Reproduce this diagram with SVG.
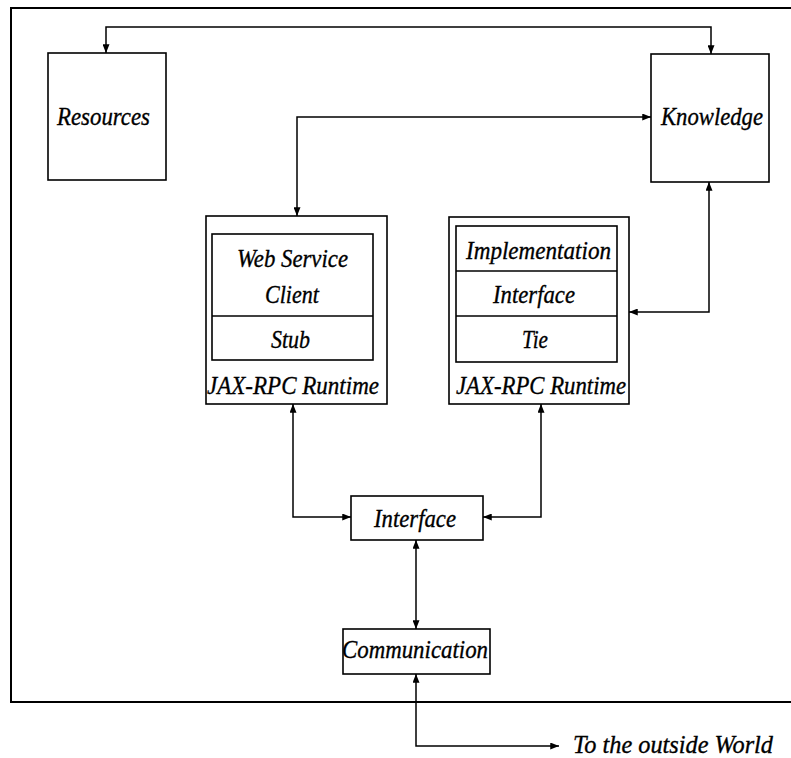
<svg xmlns="http://www.w3.org/2000/svg" width="791" height="758" viewBox="0 0 791 758">
  <style>
    .box { fill: #fff; stroke: #000; stroke-width: 1.6; }
    .frame { fill: none; stroke: #000; stroke-width: 2; }
    .wire { fill: none; stroke: #000; stroke-width: 1.5; }
    text { font-family: "Liberation Serif", "Times New Roman", serif; font-style: italic; font-size: 26px; fill: #000; stroke: #000; stroke-width: 0.35; }
  </style>
  <defs>
    <marker id="arrow" viewBox="0 0 10 8" refX="10" refY="4" markerWidth="9" markerHeight="7" markerUnits="userSpaceOnUse" orient="auto-start-reverse">
      <path d="M0,0 L10,4 L0,8 Z" fill="#000"/>
    </marker>
  </defs>

  <!-- system boundary: open on the right -->
  <path class="frame" d="M791,8 H11 V702 H791"/>

  <g id="resources">
    <rect class="box" x="48" y="53" width="118" height="127"/>
    <text x="57" y="125" textLength="93" lengthAdjust="spacingAndGlyphs">Resources</text>
  </g>

  <g id="knowledge">
    <rect class="box" x="651" y="54" width="118" height="128"/>
    <text x="661" y="125" textLength="102" lengthAdjust="spacingAndGlyphs">Knowledge</text>
  </g>

  <g id="client-runtime">
    <rect class="box" x="206" y="216" width="181" height="188"/>
    <rect class="box" x="212" y="234" width="161" height="126"/>
    <line class="wire" x1="212" y1="316" x2="373" y2="316"/>
    <text x="237" y="267" textLength="111" lengthAdjust="spacingAndGlyphs">Web Service</text>
    <text x="265" y="303" textLength="54" lengthAdjust="spacingAndGlyphs">Client</text>
    <text x="271" y="348" textLength="39" lengthAdjust="spacingAndGlyphs">Stub</text>
    <text x="207" y="394" textLength="172" lengthAdjust="spacingAndGlyphs">JAX-RPC Runtime</text>
  </g>

  <g id="server-runtime">
    <rect class="box" x="449" y="217" width="180" height="187"/>
    <rect class="box" x="456" y="226" width="161" height="136"/>
    <line class="wire" x1="456" y1="271" x2="617" y2="271"/>
    <line class="wire" x1="456" y1="316" x2="617" y2="316"/>
    <text x="466" y="259" textLength="145" lengthAdjust="spacingAndGlyphs">Implementation</text>
    <text x="493" y="303" textLength="82" lengthAdjust="spacingAndGlyphs">Interface</text>
    <text x="522" y="348" textLength="26" lengthAdjust="spacingAndGlyphs">Tie</text>
    <text x="456" y="394" textLength="170" lengthAdjust="spacingAndGlyphs">JAX-RPC Runtime</text>
  </g>

  <g id="interface">
    <rect class="box" x="351" y="496" width="132" height="44"/>
    <text x="374" y="527" textLength="82" lengthAdjust="spacingAndGlyphs">Interface</text>
  </g>

  <g id="communication">
    <rect class="box" x="343" y="629" width="147" height="45"/>
    <text x="342" y="658" textLength="146" lengthAdjust="spacingAndGlyphs">Communication</text>
  </g>

  <g id="outside-label">
    <text x="573" y="753" textLength="200" lengthAdjust="spacingAndGlyphs">To the outside World</text>
  </g>

  <g id="connectors">
    <!-- Resources <-> Knowledge -->
    <path class="wire" d="M106,53 V27 H711 V54" marker-start="url(#arrow)" marker-end="url(#arrow)"/>
    <!-- client runtime <-> Knowledge -->
    <path class="wire" d="M297,216 V117 H651" marker-start="url(#arrow)" marker-end="url(#arrow)"/>
    <!-- Knowledge <-> server runtime -->
    <path class="wire" d="M709,182 V312 H629" marker-start="url(#arrow)" marker-end="url(#arrow)"/>
    <!-- client runtime <-> Interface -->
    <path class="wire" d="M293,404 V517 H351" marker-start="url(#arrow)" marker-end="url(#arrow)"/>
    <!-- server runtime <-> Interface -->
    <path class="wire" d="M541,404 V517 H483" marker-start="url(#arrow)" marker-end="url(#arrow)"/>
    <!-- Interface <-> Communication -->
    <path class="wire" d="M416,540 V629" marker-start="url(#arrow)" marker-end="url(#arrow)"/>
    <!-- Communication <-> outside world -->
    <path class="wire" d="M416,674 V746 H559" marker-start="url(#arrow)" marker-end="url(#arrow)"/>
  </g>
</svg>
